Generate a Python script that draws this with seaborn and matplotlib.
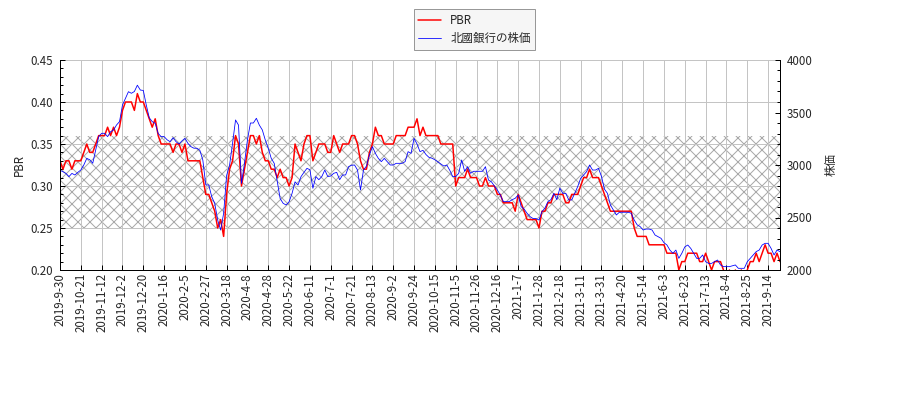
import numpy as np
import pandas as pd
import matplotlib
matplotlib.use("Agg")
import matplotlib.pyplot as plt
import seaborn as sns
from matplotlib.ticker import MultipleLocator

# ---------------- data ----------------
tick_labels = [
    "2019-9-30", "2019-10-21", "2019-11-12", "2019-12-2", "2019-12-20",
    "2020-1-16", "2020-2-5", "2020-2-27", "2020-3-18", "2020-4-8",
    "2020-4-28", "2020-5-22", "2020-6-11", "2020-7-1", "2020-7-21",
    "2020-8-13", "2020-9-2", "2020-9-24", "2020-10-15", "2020-11-5",
    "2020-11-26", "2020-12-16", "2021-1-7", "2021-1-28", "2021-2-18",
    "2021-3-11", "2021-3-31", "2021-4-20", "2021-5-14", "2021-6-3",
    "2021-6-23", "2021-7-13", "2021-8-4", "2021-8-25", "2021-9-14",
]
tick_every = 14      # trading days between date labels
sample_every = 2     # trading days between samples below

pbr = [
    0.33, 0.32, 0.33, 0.33, 0.32, 0.33, 0.33, 0.33, 0.34, 0.35,
    0.34, 0.34, 0.35, 0.36, 0.36, 0.36, 0.37, 0.36, 0.37, 0.36,
    0.37, 0.39, 0.40, 0.40, 0.40, 0.39, 0.41, 0.40, 0.40, 0.39,
    0.38, 0.37, 0.38, 0.36, 0.35, 0.35, 0.35, 0.35, 0.34, 0.35,
    0.35, 0.34, 0.35, 0.33, 0.33, 0.33, 0.33, 0.33, 0.31, 0.29,
    0.29, 0.28, 0.27, 0.25, 0.26, 0.24, 0.29, 0.32, 0.33, 0.36,
    0.35, 0.30, 0.32, 0.34, 0.36, 0.36, 0.35, 0.36, 0.34, 0.33,
    0.33, 0.32, 0.32, 0.31, 0.32, 0.31, 0.31, 0.30, 0.31, 0.35,
    0.34, 0.33, 0.35, 0.36, 0.36, 0.33, 0.34, 0.35, 0.35, 0.35,
    0.34, 0.34, 0.36, 0.35, 0.34, 0.35, 0.35, 0.35, 0.36, 0.36,
    0.35, 0.33, 0.32, 0.32, 0.34, 0.35, 0.37, 0.36, 0.36, 0.35,
    0.35, 0.35, 0.35, 0.36, 0.36, 0.36, 0.36, 0.37, 0.37, 0.37,
    0.38, 0.36, 0.37, 0.36, 0.36, 0.36, 0.36, 0.36, 0.35, 0.35,
    0.35, 0.35, 0.35, 0.30, 0.31, 0.31, 0.31, 0.32, 0.31, 0.31,
    0.31, 0.30, 0.30, 0.31, 0.30, 0.30, 0.30, 0.29, 0.29, 0.28,
    0.28, 0.28, 0.28, 0.27, 0.29, 0.28, 0.27, 0.26, 0.26, 0.26,
    0.26, 0.25, 0.27, 0.27, 0.28, 0.28, 0.29, 0.29, 0.29, 0.29,
    0.28, 0.28, 0.29, 0.29, 0.29, 0.30, 0.31, 0.31, 0.32, 0.31,
    0.31, 0.31, 0.30, 0.29, 0.28, 0.27, 0.27, 0.27, 0.27, 0.27,
    0.27, 0.27, 0.27, 0.25, 0.24, 0.24, 0.24, 0.24, 0.23, 0.23,
    0.23, 0.23, 0.23, 0.23, 0.22, 0.22, 0.22, 0.22, 0.20, 0.21,
    0.21, 0.22, 0.22, 0.22, 0.22, 0.21, 0.21, 0.22, 0.21, 0.20,
    0.21, 0.21, 0.21, 0.20, 0.19, 0.20, 0.19, 0.20, 0.19, 0.20,
    0.19, 0.20, 0.21, 0.21, 0.22, 0.21, 0.22, 0.23, 0.22, 0.22,
    0.21, 0.22, 0.21,
]

price = [
    2950, 2936, 2920, 2889, 2920, 2905, 2930, 2952, 3000, 3063,
    3050, 3016, 3143, 3270, 3302, 3302, 3270, 3317, 3333, 3381,
    3413, 3571, 3635, 3698, 3683, 3700, 3760, 3714, 3710, 3571,
    3450, 3413, 3397, 3300, 3270, 3270, 3240, 3222, 3260, 3222,
    3200, 3230, 3254, 3206, 3175, 3160, 3160, 3140, 3048, 2810,
    2810, 2698, 2635, 2476, 2380, 2540, 2900, 3000, 3206, 3429,
    3380, 2825, 3016, 3238, 3400, 3400, 3445, 3380, 3334, 3238,
    3160, 3063, 3016, 2850, 2680, 2635, 2619, 2650, 2730, 2840,
    2809, 2889, 2930, 2968, 2955, 2778, 2890, 2860, 2890, 2952,
    2890, 2895, 2921, 2930, 2860, 2905, 2905, 2984, 2998, 3000,
    2952, 2762, 2952, 2990, 3095, 3175, 3111, 3063, 3032, 3063,
    3032, 3000, 3000, 3016, 3016, 3016, 3032, 3127, 3111, 3254,
    3200, 3127, 3140, 3100, 3073, 3065, 3050, 3030, 3010, 2990,
    3000, 2950, 2890, 2890, 2920, 3048, 2940, 2984, 2921, 2940,
    2940, 2940, 2940, 2984, 2857, 2840, 2800, 2762, 2714, 2651,
    2651, 2651, 2670, 2683, 2714, 2603, 2580, 2540, 2508, 2490,
    2490, 2476, 2556, 2590, 2651, 2670, 2730, 2670, 2780, 2730,
    2730, 2667, 2667, 2730, 2794, 2873, 2905, 2937, 3000, 2952,
    2952, 2968, 2890, 2770, 2730, 2619, 2571, 2524, 2550, 2550,
    2550, 2550, 2540, 2476, 2430, 2413, 2381, 2390, 2390, 2381,
    2333, 2318, 2302, 2260, 2238, 2190, 2159, 2190, 2111, 2159,
    2220, 2238, 2206, 2159, 2111, 2111, 2143, 2079, 2063, 2063,
    2079, 2095, 2048, 2032, 2032, 2032, 2040, 2048, 2016, 2016,
    2016, 2079, 2111, 2143, 2175, 2190, 2238, 2254, 2254, 2206,
    2143, 2190, 2175,
]

band_low, band_high = 0.25, 0.36
pbr_label = "PBR"
price_label = "北國銀行の株価"

# ---------------- style ----------------
sns.set_style("white")
plt.rcParams['font.family'] = ['Noto Sans CJK JP', 'DejaVu Sans']
plt.rcParams['hatch.linewidth'] = 1.0
plt.rcParams['hatch.color'] = '#a8a8a8'

FS = 11.5
DPI = 72
fig = plt.figure(figsize=(900 / DPI, 400 / DPI), dpi=DPI)
ax = fig.add_axes([60 / 900, 130 / 400, 720 / 900, 210 / 400])
ax2 = ax.twinx()

days = np.arange(len(pbr)) * sample_every
df = pd.DataFrame({"day": days, "pbr": pbr, "price": price})

ax.axhspan(band_low, band_high, facecolor='none', edgecolor='#a8a8a8',
           hatch='xx', linewidth=0, zorder=0.5)

sns.lineplot(data=df, x="day", y="pbr", ax=ax, color="#ff0000",
             linewidth=1.5, label=pbr_label, legend=False)
sns.lineplot(data=df, x="day", y="price", ax=ax2, color="#0000ff",
             linewidth=0.8, label=price_label, legend=False)

ax.set_xlim(days[0], days[-1])
ax.set_ylim(0.20, 0.45)
ax2.set_ylim(2000, 4000)

ax.set_xticks(np.arange(len(tick_labels)) * tick_every)
ax.set_xticklabels(tick_labels, rotation=90)
ax.yaxis.set_major_locator(MultipleLocator(0.05))
ax.yaxis.set_minor_locator(MultipleLocator(0.01))
ax.yaxis.set_major_formatter(matplotlib.ticker.FormatStrFormatter('%.2f'))
ax2.yaxis.set_major_locator(MultipleLocator(500))
ax2.yaxis.set_minor_locator(MultipleLocator(100))

ax.tick_params(axis='x', which='major', direction='in', length=5, width=1,
               labelsize=FS, pad=3, color='black', bottom=True)
ax.tick_params(axis='y', which='major', direction='in', length=5, width=1,
               labelsize=FS, pad=7, color='black', left=True)
ax.tick_params(axis='y', which='minor', direction='in', length=3, width=1,
               color='black', left=True)
ax2.tick_params(axis='y', which='major', direction='in', length=5, width=1,
                labelsize=FS, pad=7, color='black', right=True)
ax2.tick_params(axis='y', which='minor', direction='in', length=3, width=1,
                color='black', right=True)

ax.grid(True, which='major', color='#c4c4c4', linewidth=1)
ax.set_axisbelow(True)
ax2.grid(False)

for a in (ax, ax2):
    a.spines['top'].set_visible(False)
    for s in ('left', 'bottom', 'right'):
        a.spines[s].set_color('black')
        a.spines[s].set_linewidth(1)
ax.spines['right'].set_visible(False)

ax.set_xlabel("")
ax.set_ylabel("PBR", fontsize=FS, labelpad=4)
ax2.set_ylabel("株価", fontsize=FS, labelpad=12)

h1, l1 = ax.get_legend_handles_labels()
h2, l2 = ax2.get_legend_handles_labels()
leg = fig.legend(h1 + h2, l1 + l2, loc='upper center',
                 bbox_to_anchor=(474.5 / 900, 1 - 9 / 400), borderaxespad=0,
                 fontsize=FS, fancybox=False, frameon=True)
leg.get_frame().set_edgecolor('#808080')
leg.get_frame().set_facecolor('#f4f4f4')
leg.get_frame().set_linewidth(1)

fig.savefig("out.png", dpi=DPI)
